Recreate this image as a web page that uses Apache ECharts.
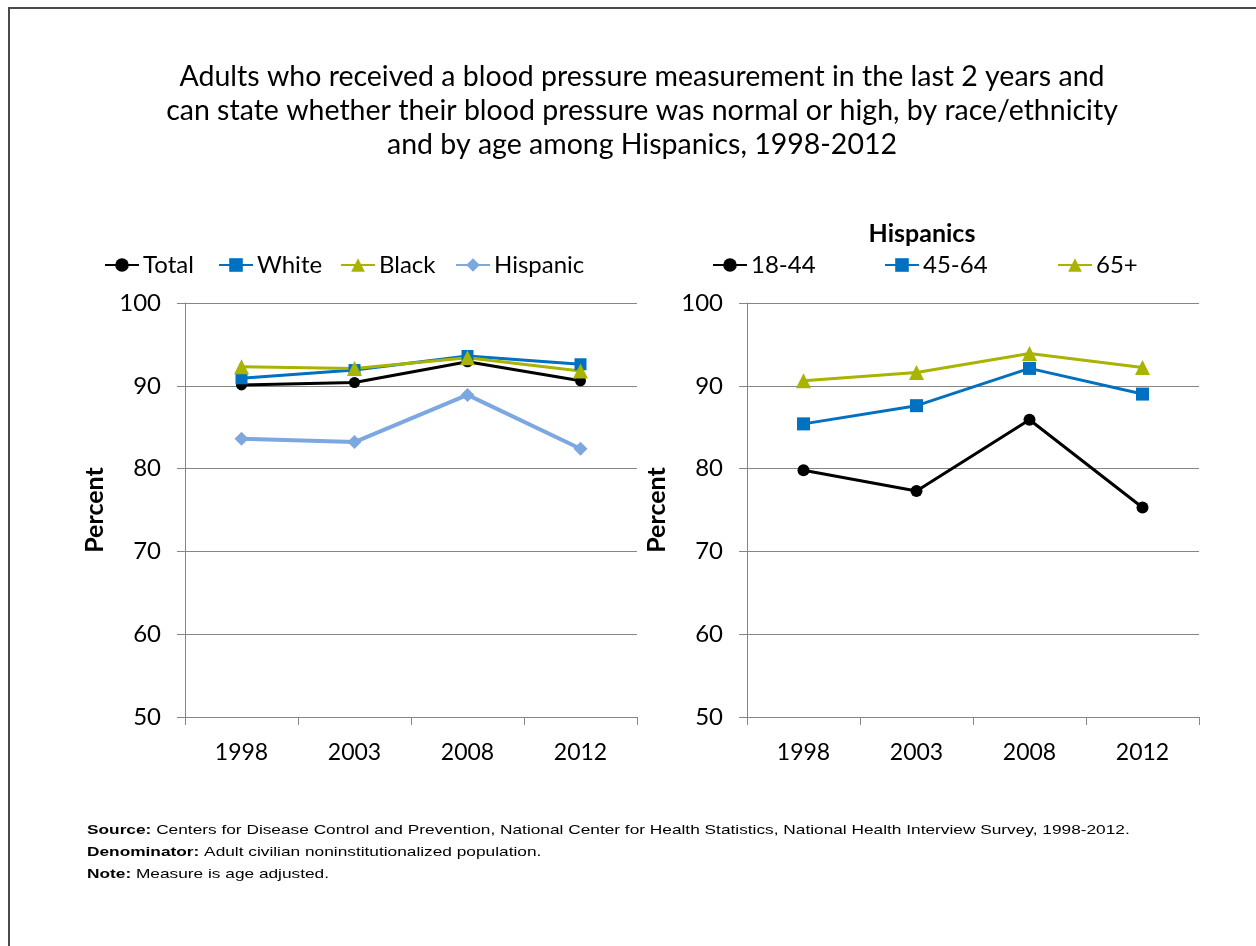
<!DOCTYPE html>
<html><head><meta charset="utf-8">
<script src="https://cdn.jsdelivr.net/npm/echarts@6/dist/echarts.min.js"></script>
<style>html,body{margin:0;padding:0;background:#fff}#c{width:1256px;height:946px}</style>
</head><body><div id="c"></div>
<script>
const years = ['1998', '2003', '2008', '2012'];
const yTicks = [50, 60, 70, 80, 90, 100];
const leftNames = ['Total', 'White', 'Black', 'Hispanic'];
const total = [90.1, 90.4, 92.9, 90.6];
const white = [90.9, 91.9, 93.6, 92.6];
const black = [92.3, 92.1, 93.4, 91.8];
const hispanic = [83.6, 83.2, 88.9, 82.4];
const rightNames = ['18-44', '45-64', '65+'];
const age1844 = [79.8, 77.3, 85.9, 75.3];
const age4564 = [85.4, 87.6, 92.1, 89.0];
const age65 = [90.6, 91.6, 93.9, 92.2];

const FONT = 'Lato, "Open Sans", sans-serif';
const GRAY = '#868686';
const C_BLACK = '#000000', C_BLUE = '#0070C0', C_GREEN = '#A8B400', C_LBLUE = '#7DA7E0';

const chart = echarts.init(document.getElementById('c'), null, {renderer: 'canvas'});

function xAxis(gi) {
  return {
    type: 'category', gridIndex: gi, data: years, boundaryGap: true,
    axisLine: {show: true, lineStyle: {color: GRAY, width: 1}},
    axisTick: {show: true, length: 8, inside: false, alignWithLabel: false, interval: 0, lineStyle: {color: GRAY}},
    axisLabel: {color: '#000', fontSize: 23, fontFamily: FONT, margin: 24}
  };
}
function yAxis(gi) {
  return {
    type: 'value', gridIndex: gi, min: yTicks[0], max: yTicks[yTicks.length - 1], interval: 10,
    name: 'Percent', nameLocation: 'middle', nameGap: 78, nameRotate: 90,
    nameTextStyle: {color: '#000', fontSize: 25, fontWeight: 'bold', fontFamily: FONT},
    axisLine: {show: true, lineStyle: {color: GRAY, width: 1}},
    axisTick: {show: true, length: 8, lineStyle: {color: GRAY}},
    splitLine: {show: true, lineStyle: {color: GRAY, width: 1}},
    axisLabel: {color: '#000', fontSize: 24, fontFamily: FONT, margin: 24}
  };
}
function line(name, data, xi, color, symbol, size, width) {
  return {
    name, type: 'line', xAxisIndex: xi, yAxisIndex: xi, data,
    symbol, symbolSize: size, showSymbol: true,
    lineStyle: {color, width}, itemStyle: {color},
    emphasis: {disabled: true}, animation: false, z: 3
  };
}
function leg(name, left, top) {
  return {
    data: [name], left, top, itemWidth: 34, itemHeight: 17, itemGap: 0,
    textStyle: {color: '#000', fontSize: 24, fontFamily: FONT, padding: [0, 0, 0, -1]},
    padding: 0, selectedMode: false
  };
}

chart.setOption({
  animation: false,
  title: [
    {text: 'Adults who received a blood pressure measurement in the last 2 years and\ncan state whether their blood pressure was normal or high, by race/ethnicity\nand by age among Hispanics, 1998-2012',
     left: 637, top: 55, textAlign: 'center',
     textStyle: {color: '#000', fontSize: 28.5, fontWeight: 'normal', fontFamily: FONT, lineHeight: 34}},
    {text: 'Hispanics', left: 917, top: 216, textAlign: 'center',
     textStyle: {color: '#000', fontSize: 25, fontWeight: 'bold', fontFamily: FONT}}
  ],
  legend: [
    leg('Total', 104, 253), leg('White', 218, 253), leg('Black', 340, 253), leg('Hispanic', 455, 253),
    leg('18-44', 712, 253), leg('45-64', 884, 253), leg('65+', 1057, 253)
  ],
  grid: [
    {left: 185, top: 303, width: 452, height: 414},
    {left: 747, top: 303, width: 452, height: 414}
  ],
  xAxis: [xAxis(0), xAxis(1)],
  yAxis: [yAxis(0), yAxis(1)],
  series: [
    line(leftNames[0], total, 0, C_BLACK, 'circle', 11, 3),
    line(leftNames[1], white, 0, C_BLUE, 'rect', 12, 3),
    line(leftNames[2], black, 0, C_GREEN, 'triangle', 15, 3),
    line(leftNames[3], hispanic, 0, C_LBLUE, 'diamond', 14, 4),
    line(rightNames[0], age1844, 1, C_BLACK, 'circle', 12, 3),
    line(rightNames[1], age4564, 1, C_BLUE, 'rect', 13, 3),
    line(rightNames[2], age65, 1, C_GREEN, 'triangle', 15, 3)
  ],
  graphic: [
    {type: 'rect', shape: {x: 9, y: 8, width: 2000, height: 2000}, style: {fill: 'none', stroke: '#4a4a4a', lineWidth: 2}, silent: true},
    {type: 'text', x: 87, y: 819, scaleX: 1.28, style: {text: '{b|Source:} Centers for Disease Control and Prevention, National Center for Health Statistics, National Health Interview Survey, 1998-2012.\n{b|Denominator:} Adult civilian noninstitutionalized population.\n{b|Note:} Measure is age adjusted.',
      fill: '#000', font: '13.5px "Liberation Sans", Arial, sans-serif', lineHeight: 22,
      rich: {b: {fontWeight: 'bold', fontSize: 13.5, fontFamily: '"Liberation Sans", Arial, sans-serif'}}}}
  ]
});
</script></body></html>
